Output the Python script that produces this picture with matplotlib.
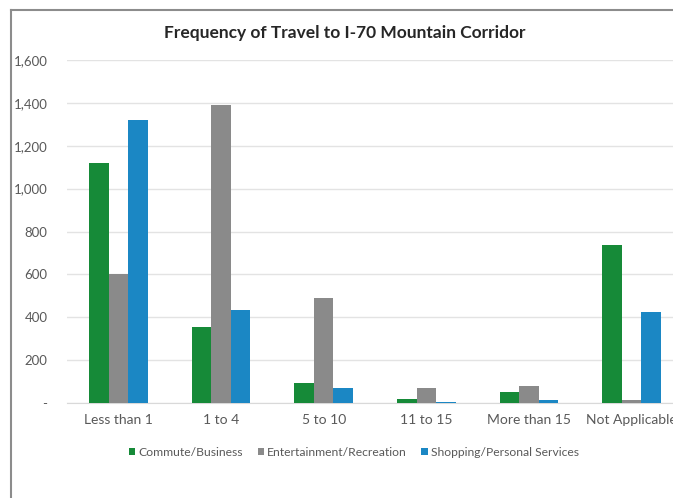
import numpy as np
import matplotlib
matplotlib.use("Agg")
import matplotlib.pyplot as plt
from matplotlib.lines import Line2D

plt.rcParams['font.family'] = ['Lato', 'DejaVu Sans']

# Dados
categories = ['Less than 1', '1 to 4', '5 to 10', '11 to 15', 'More than 15', 'Not Applicable']
commute = [1120, 355, 93, 20, 50, 735]
entertainment = [600, 1392, 490, 72, 78, 15]
shopping = [1322, 435, 70, 5, 15, 425]
series_names = ['Commute/Business', 'Entertainment/Recreation', 'Shopping/Personal Services']
colors = ['#168a38', '#8a8a8a', '#1b87c4']
yticks = [0, 200, 400, 600, 800, 1000, 1200, 1400, 1600]

fig = plt.figure(figsize=(6.73, 4.98), dpi=100)

# moldura do print (so topo e esquerda)
top_y = 1 - 10 / 498
left_x = 11 / 673
fig.lines.append(Line2D([left_x, 1.05], [top_y, top_y], transform=fig.transFigure,
                        color='#8c8c8c', linewidth=1.5))
fig.lines.append(Line2D([left_x, left_x], [top_y, -0.05], transform=fig.transFigure,
                        color='#8c8c8c', linewidth=1.5))

ax = fig.add_axes([67 / 673, 1 - 403 / 498, 616 / 673, 343 / 498])

x = np.arange(len(categories))
w = 0.19
for i, (vals, name) in enumerate(zip([commute, entertainment, shopping], series_names)):
    ax.bar(x + (i - 1) * w, vals, width=w, color=colors[i], label=name, zorder=3)

ax.set_xlim(-0.5, len(categories) - 0.5)
ax.set_ylim(0, 1600)
ax.set_yticks(yticks)
ax.set_yticklabels(['-'] + [f'{v:,}' for v in yticks[1:]])
ax.set_xticks(x)
ax.set_xticklabels(categories)
ax.tick_params(axis='both', length=0, colors='#595959')
ax.tick_params(axis='x', pad=8, labelsize=10)
ax.tick_params(axis='y', pad=14, labelsize=9.5)
ax.grid(axis='y', color='#e3e3e3', linewidth=1, zorder=0)
for s in ['top', 'right', 'left']:
    ax.spines[s].set_visible(False)
ax.spines['bottom'].set_color('#d9d9d9')

fig.text(345 / 673, 1 - 33 / 498, 'Frequency of Travel to I-70 Mountain Corridor',
         ha='center', va='center', fontsize=12.5, fontweight='bold', color='#262626')

fig.legend(loc='center', bbox_to_anchor=(354 / 673, 1 - 452 / 498), ncol=3, frameon=False,
           fontsize=8.7, handlelength=0.5, handleheight=0.5, handletextpad=0.3,
           columnspacing=1.2, labelcolor='#595959')

fig.savefig('out.png', dpi=100)
